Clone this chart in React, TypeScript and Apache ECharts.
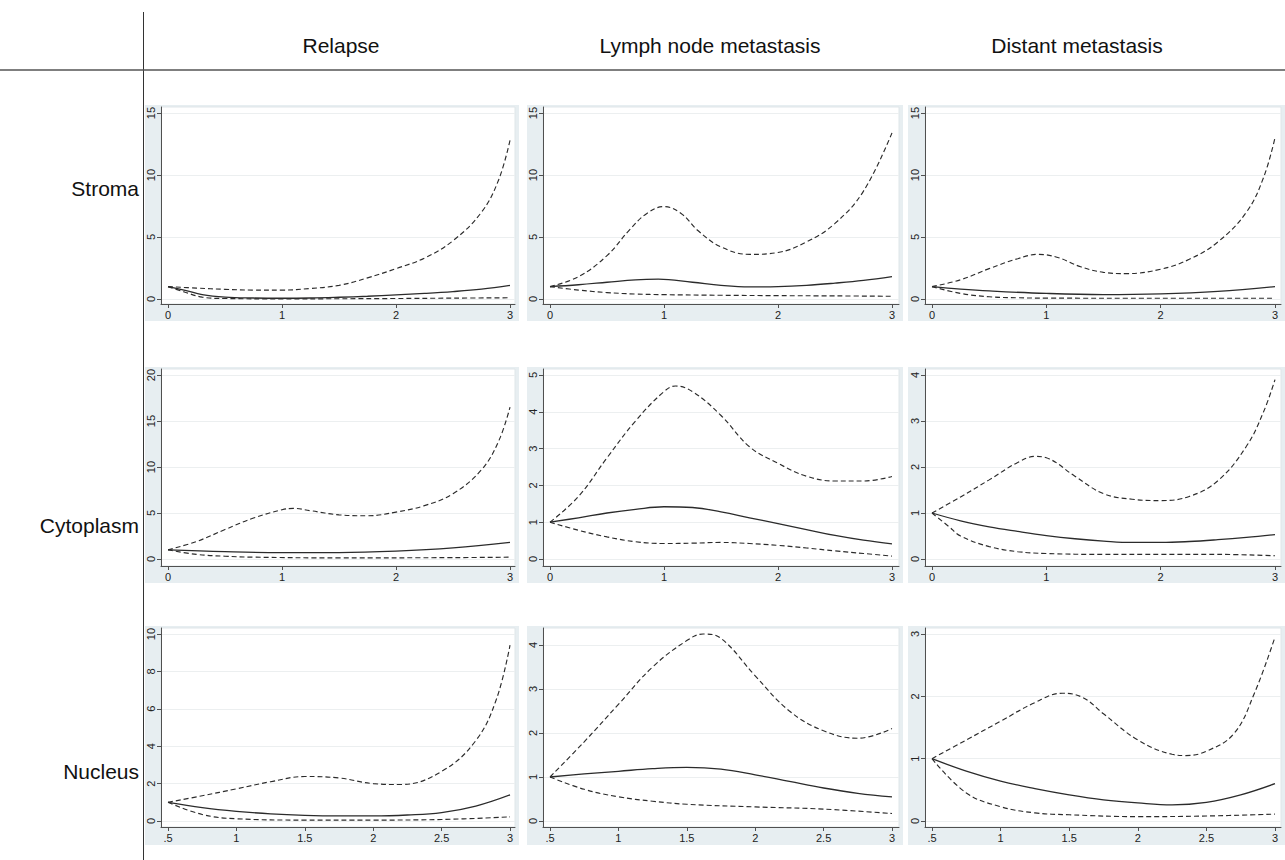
import React, { useEffect, useRef } from "react";
import * as echarts from "echarts";

// ---------- texts ----------
const columnTitles = ["Relapse", "Lymph node metastasis", "Distant metastasis"];
const rowTitles = ["Stroma", "Cytoplasm", "Nucleus"];

// ---------- tick values ----------
const xTicksFrom0 = [0, 1, 2, 3];
const xTicksFromHalf = [0.5, 1, 1.5, 2, 2.5, 3];
const yTicksStroma = [0, 5, 10, 15];
const yTicksCytoRelapse = [0, 5, 10, 15, 20];
const yTicksCytoLymph = [0, 1, 2, 3, 4, 5];
const yTicksCytoDistant = [0, 1, 2, 3, 4];
const yTicksNucRelapse = [0, 2, 4, 6, 8, 10];
const yTicksNucLymph = [0, 1, 2, 3, 4];
const yTicksNucDistant = [0, 1, 2, 3];

// ---------- series values [x, y] ----------
// Stroma / Relapse
const stromaRelapseUpper = [[0, 1], [0.25, 0.88], [0.5, 0.78], [0.75, 0.72], [1, 0.72], [1.25, 0.85], [1.5, 1.1], [1.75, 1.7], [2, 2.45], [2.25, 3.3], [2.5, 4.7], [2.75, 7.0], [2.9, 9.6], [3, 12.8]];
const stromaRelapseEst = [[0, 1], [0.15, 0.7], [0.3, 0.35], [0.5, 0.15], [0.75, 0.08], [1, 0.06], [1.25, 0.08], [1.5, 0.14], [1.75, 0.22], [2, 0.33], [2.25, 0.45], [2.5, 0.6], [2.75, 0.8], [3, 1.1]];
const stromaRelapseLower = [[0, 1], [0.15, 0.55], [0.3, 0.15], [0.5, 0.04], [1, 0.01], [1.5, 0.02], [2, 0.04], [2.5, 0.07], [3, 0.1]];
// Stroma / Lymph node metastasis
const stromaLymphUpper = [[0, 1], [0.25, 1.8], [0.5, 3.5], [0.7, 5.6], [0.85, 6.9], [1, 7.45], [1.15, 6.9], [1.3, 5.5], [1.5, 4.2], [1.75, 3.6], [2, 3.75], [2.25, 4.6], [2.5, 6.1], [2.75, 8.7], [3, 13.4]];
const stromaLymphEst = [[0, 1], [0.25, 1.15], [0.5, 1.35], [0.75, 1.55], [0.95, 1.6], [1.25, 1.35], [1.5, 1.1], [1.75, 0.98], [2, 1.0], [2.25, 1.1], [2.5, 1.28], [2.75, 1.5], [3, 1.8]];
const stromaLymphLower = [[0, 1], [0.25, 0.72], [0.5, 0.52], [0.75, 0.4], [1, 0.35], [1.5, 0.3], [2, 0.27], [2.5, 0.25], [3, 0.22]];
// Stroma / Distant metastasis
const stromaDistantUpper = [[0, 1], [0.25, 1.55], [0.5, 2.45], [0.75, 3.25], [0.93, 3.6], [1.1, 3.35], [1.3, 2.6], [1.5, 2.15], [1.7, 2.05], [2, 2.4], [2.25, 3.2], [2.5, 4.6], [2.75, 7.0], [2.9, 9.8], [3, 13.0]];
const stromaDistantEst = [[0, 1], [0.25, 0.8], [0.5, 0.65], [1, 0.45], [1.5, 0.36], [2, 0.42], [2.5, 0.62], [3, 1.0]];
const stromaDistantLower = [[0, 1], [0.25, 0.45], [0.5, 0.18], [0.75, 0.1], [1, 0.07], [2, 0.06], [3, 0.06]];
// Cytoplasm / Relapse
const cytoRelapseUpper = [[0, 1], [0.25, 1.9], [0.5, 3.2], [0.75, 4.45], [1, 5.35], [1.1, 5.5], [1.25, 5.25], [1.5, 4.8], [1.75, 4.7], [2, 5.1], [2.25, 5.8], [2.5, 7.1], [2.75, 9.7], [2.9, 12.8], [3, 16.5]];
const cytoRelapseEst = [[0, 1], [0.5, 0.8], [1, 0.7], [1.5, 0.7], [2, 0.85], [2.5, 1.2], [3, 1.8]];
const cytoRelapseLower = [[0, 1], [0.25, 0.5], [0.5, 0.3], [0.75, 0.2], [1.5, 0.12], [2.5, 0.15], [3, 0.2]];
// Cytoplasm / Lymph node metastasis
const cytoLymphUpper = [[0, 1], [0.25, 1.7], [0.5, 2.75], [0.75, 3.75], [1, 4.55], [1.1, 4.7], [1.25, 4.55], [1.5, 3.9], [1.75, 3.05], [2, 2.6], [2.25, 2.25], [2.5, 2.12], [2.75, 2.12], [3, 2.24]];
const cytoLymphEst = [[0, 1], [0.25, 1.12], [0.5, 1.25], [0.75, 1.35], [1, 1.42], [1.25, 1.4], [1.5, 1.28], [1.75, 1.12], [2, 0.96], [2.25, 0.8], [2.5, 0.64], [2.75, 0.51], [3, 0.41]];
const cytoLymphLower = [[0, 1], [0.25, 0.78], [0.5, 0.6], [0.75, 0.47], [1, 0.42], [1.25, 0.43], [1.5, 0.45], [1.75, 0.42], [2, 0.37], [2.25, 0.3], [2.5, 0.22], [2.75, 0.15], [3, 0.08]];
// Cytoplasm / Distant metastasis
const cytoDistantUpper = [[0, 1], [0.25, 1.35], [0.5, 1.72], [0.75, 2.1], [0.9, 2.23], [1, 2.2], [1.25, 1.8], [1.5, 1.42], [1.75, 1.3], [2, 1.27], [2.25, 1.36], [2.5, 1.7], [2.75, 2.45], [2.9, 3.2], [3, 3.9]];
const cytoDistantEst = [[0, 1], [0.25, 0.83], [0.5, 0.7], [0.75, 0.6], [1, 0.51], [1.25, 0.44], [1.5, 0.39], [1.75, 0.36], [2, 0.36], [2.25, 0.38], [2.5, 0.42], [2.75, 0.47], [3, 0.53]];
const cytoDistantLower = [[0, 1], [0.15, 0.7], [0.25, 0.5], [0.5, 0.27], [0.75, 0.16], [1, 0.12], [1.5, 0.1], [2, 0.1], [2.5, 0.1], [3, 0.07]];
// Nucleus / Relapse
const nucRelapseUpper = [[0.5, 1], [0.75, 1.35], [1, 1.72], [1.25, 2.1], [1.5, 2.38], [1.75, 2.3], [2, 2.0], [2.2, 1.95], [2.5, 2.65], [2.75, 4.3], [2.9, 6.5], [3, 9.4]];
const nucRelapseEst = [[0.5, 1], [0.75, 0.72], [1, 0.52], [1.25, 0.38], [1.5, 0.3], [1.75, 0.27], [2, 0.27], [2.25, 0.32], [2.5, 0.45], [2.75, 0.8], [3, 1.4]];
const nucRelapseLower = [[0.5, 1], [0.75, 0.35], [1, 0.12], [1.5, 0.05], [2, 0.05], [2.5, 0.08], [3, 0.22]];
// Nucleus / Lymph node metastasis
const nucLymphUpper = [[0.5, 1], [0.75, 1.8], [1, 2.65], [1.25, 3.5], [1.5, 4.1], [1.62, 4.25], [1.75, 4.15], [2, 3.3], [2.25, 2.5], [2.5, 2.05], [2.75, 1.88], [3, 2.1]];
const nucLymphEst = [[0.5, 1], [0.75, 1.07], [1, 1.13], [1.25, 1.19], [1.5, 1.22], [1.75, 1.18], [2, 1.05], [2.25, 0.9], [2.5, 0.75], [2.75, 0.63], [3, 0.55]];
const nucLymphLower = [[0.5, 1], [0.75, 0.72], [1, 0.55], [1.25, 0.45], [1.5, 0.38], [2, 0.32], [2.5, 0.27], [3, 0.17]];
// Nucleus / Distant metastasis
const nucDistantUpper = [[0.5, 1], [0.75, 1.3], [1, 1.6], [1.25, 1.9], [1.45, 2.05], [1.6, 1.98], [1.75, 1.72], [2, 1.3], [2.25, 1.07], [2.35, 1.05], [2.5, 1.12], [2.7, 1.4], [2.85, 2.05], [3, 2.95]];
const nucDistantEst = [[0.5, 1], [0.75, 0.8], [1, 0.64], [1.25, 0.52], [1.5, 0.42], [1.75, 0.34], [2, 0.29], [2.25, 0.26], [2.5, 0.3], [2.75, 0.42], [3, 0.6]];
const nucDistantLower = [[0.5, 1], [0.75, 0.45], [1, 0.23], [1.25, 0.13], [1.5, 0.1], [2, 0.07], [2.5, 0.08], [3, 0.11]];

const panels = [
  [
    { xT: xTicksFrom0, yT: yTicksStroma, upper: stromaRelapseUpper, est: stromaRelapseEst, lower: stromaRelapseLower },
    { xT: xTicksFrom0, yT: yTicksStroma, upper: stromaLymphUpper, est: stromaLymphEst, lower: stromaLymphLower },
    { xT: xTicksFrom0, yT: yTicksStroma, upper: stromaDistantUpper, est: stromaDistantEst, lower: stromaDistantLower },
  ],
  [
    { xT: xTicksFrom0, yT: yTicksCytoRelapse, upper: cytoRelapseUpper, est: cytoRelapseEst, lower: cytoRelapseLower },
    { xT: xTicksFrom0, yT: yTicksCytoLymph, upper: cytoLymphUpper, est: cytoLymphEst, lower: cytoLymphLower },
    { xT: xTicksFrom0, yT: yTicksCytoDistant, upper: cytoDistantUpper, est: cytoDistantEst, lower: cytoDistantLower },
  ],
  [
    { xT: xTicksFromHalf, yT: yTicksNucRelapse, upper: nucRelapseUpper, est: nucRelapseEst, lower: nucRelapseLower },
    { xT: xTicksFromHalf, yT: yTicksNucLymph, upper: nucLymphUpper, est: nucLymphEst, lower: nucLymphLower },
    { xT: xTicksFromHalf, yT: yTicksNucDistant, upper: nucDistantUpper, est: nucDistantEst, lower: nucDistantLower },
  ],
];

// ---------- layout (pixels) ----------
const COLS = [
  { bg: [145, 519], grid: [161, 515], d0: 168, d1: 510, title: 341 },
  { bg: [527, 903], grid: [543, 899], d0: 550, d1: 892, title: 710 },
  { bg: [908, 1285], grid: [925, 1281], d0: 932, d1: 1275, title: 1077 },
];
const ROWS = [
  { bg: [105, 321], grid: [107, 304], top: 113, zero: 299, label: 188 },
  { bg: [367, 583], grid: [369, 566], top: 375, zero: 559, label: 525 },
  { bg: [626, 845], grid: [628, 827], top: 634, zero: 821, label: 771 },
];

const FONT = '"Liberation Sans", Arial, Helvetica, sans-serif';
const PANEL_BG = "#e7eef1";
const AXIS_COLOR = "#505050";
const CURVE_COLOR = "#2b2b2b";

function fmtTick(v: number) {
  const s = String(v);
  return s.startsWith("0.") ? s.slice(1) : s;
}

function buildOption() {
  const grids: any[] = [];
  const xAxes: any[] = [];
  const yAxes: any[] = [];
  const series: any[] = [];
  const graphics: any[] = [];

  ROWS.forEach((row, r) => {
    COLS.forEach((col, c) => {
      const p = panels[r][c];
      const idx = grids.length;
      const xt0 = p.xT[0];
      const xt1 = p.xT[p.xT.length - 1];
      const xppu = (col.d1 - col.d0) / (xt1 - xt0);
      const xMin = xt0 - (col.d0 - col.grid[0]) / xppu;
      const xMax = xt1 + (col.grid[1] - col.d1) / xppu;
      // top of the data area covers both the last tick and the highest value
      const dataMax = Math.max(...[...p.upper, ...p.est, ...p.lower].map((d) => d[1]));
      const yt1 = Math.max(p.yT[p.yT.length - 1], dataMax);
      const yppu = (row.zero - row.top) / yt1;
      const yMin = 0 - (row.grid[1] - row.zero) / yppu;
      const yMax = yt1 + (row.top - row.grid[0]) / yppu;

      graphics.push({
        type: "rect",
        z: -100,
        silent: true,
        shape: { x: col.bg[0], y: row.bg[0], width: col.bg[1] - col.bg[0], height: row.bg[1] - row.bg[0] },
        style: { fill: PANEL_BG },
      });

      grids.push({
        left: col.grid[0],
        top: row.grid[0],
        width: col.grid[1] - col.grid[0],
        height: row.grid[1] - row.grid[0],
        show: true,
        backgroundColor: "#ffffff",
        borderColor: "#dfe6e9",
        borderWidth: 1,
        containLabel: false,
        outerBoundsMode: "none",
      });
      xAxes.push({
        type: "value",
        gridIndex: idx,
        min: xMin,
        max: xMax,
        axisLine: { show: true, onZero: false, lineStyle: { color: AXIS_COLOR, width: 1 } },
        axisTick: { show: true, length: 4, customValues: p.xT, lineStyle: { color: AXIS_COLOR } },
        axisLabel: {
          show: true,
          customValues: p.xT,
          formatter: (v: number) => fmtTick(v),
          color: "#222",
          fontSize: 11,
          fontFamily: FONT,
          margin: 5,
        },
        splitLine: { show: false },
      });
      yAxes.push({
        type: "value",
        gridIndex: idx,
        min: yMin,
        max: yMax,
        axisLine: { show: true, onZero: false, lineStyle: { color: AXIS_COLOR, width: 1 } },
        axisTick: { show: true, length: 4, customValues: p.yT, lineStyle: { color: AXIS_COLOR } },
        axisLabel: {
          show: true,
          customValues: p.yT,
          rotate: 90,
          color: "#222",
          fontSize: 11,
          fontFamily: FONT,
          margin: 5,
        },
        splitLine: { show: true, lineStyle: { color: "#eceff0", width: 1 } },
      });

      const base = { type: "line", xAxisIndex: idx, yAxisIndex: idx, symbol: "none", smooth: 0.4, silent: true };
      series.push({ ...base, data: p.upper, lineStyle: { color: CURVE_COLOR, width: 1.15, type: [5, 3] } });
      series.push({ ...base, data: p.lower, lineStyle: { color: CURVE_COLOR, width: 1.15, type: [5, 3] } });
      series.push({ ...base, data: p.est, lineStyle: { color: CURVE_COLOR, width: 1.3, type: "solid" } });
    });
  });

  // separators
  graphics.push({ type: "line", silent: true, shape: { x1: 143.5, y1: 12, x2: 143.5, y2: 860 }, style: { stroke: "#333", lineWidth: 1 } });
  graphics.push({ type: "line", silent: true, shape: { x1: 0, y1: 70, x2: 1285, y2: 70 }, style: { stroke: "#555", lineWidth: 1.5 } });

  columnTitles.forEach((t, c) => {
    graphics.push({
      type: "text",
      silent: true,
      x: COLS[c].title,
      y: 45,
      style: { text: t, fontSize: 21, fontFamily: FONT, fill: "#111", align: "center", verticalAlign: "middle" },
    });
  });
  rowTitles.forEach((t, r) => {
    graphics.push({
      type: "text",
      silent: true,
      x: 139,
      y: ROWS[r].label,
      style: { text: t, fontSize: 21, fontFamily: FONT, fill: "#111", align: "right", verticalAlign: "middle" },
    });
  });

  return {
    animation: false,
    backgroundColor: "#ffffff",
    grid: grids,
    xAxis: xAxes,
    yAxis: yAxes,
    series,
    graphic: { elements: graphics },
  };
}

export default function App() {
  const ref = useRef<HTMLDivElement>(null);
  useEffect(() => {
    if (!ref.current) return;
    const chart = echarts.init(ref.current, null, { renderer: "svg" });
    chart.setOption(buildOption() as any);
    return () => chart.dispose();
  }, []);
  return (
    <div
      ref={ref}
      style={{ position: "fixed", left: 0, top: 0, width: 1285, height: 860 }}
    />
  );
}
